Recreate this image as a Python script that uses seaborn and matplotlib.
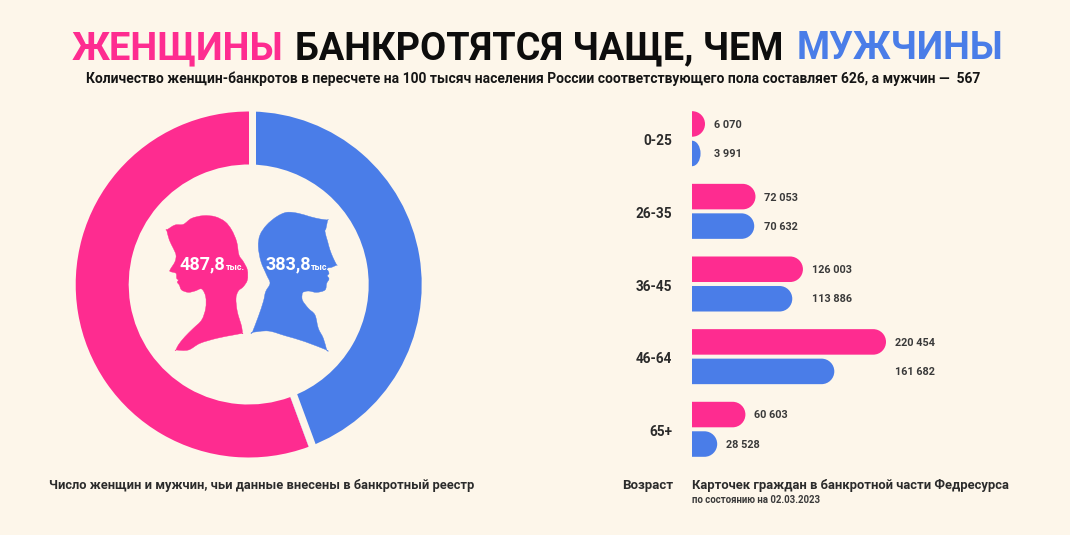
import numpy as np
import pandas as pd
import seaborn as sns
import matplotlib
matplotlib.use("Agg")
import matplotlib.pyplot as plt
from matplotlib.path import Path
from matplotlib.patches import PathPatch, Polygon
from matplotlib.transforms import IdentityTransform, ScaledTranslation

# ---- data ----
ages = ["0-25", "26-35", "36-45", "46-64", "65+"]
women_cards = [6070, 72053, 126003, 220454, 60603]
men_cards = [3991, 70632, 113886, 161682, 28528]
card_labels_w = ["6 070", "72 053", "126 003", "220 454", "60 603"]
card_labels_m = ["3 991", "70 632", "113 886", "161 682", "28 528"]
registry = [383.8, 487.8]          # men, women, thousands
registry_labels = ["383,8", "487,8"]
# the source stretches the smallest bars; axis knots (value -> px)
scale_values = [0, 6070, 28528, 220454]
scale_pixels = [0, 13, 25.2, 194]

# ---- style ----
BG = "#FDF6EA"
PINK = "#FE2C90"
BLUE = "#4A7DE8"
DARK = "#2B2B2B"
W, H = 1070, 535
sns.set_theme(style="white")
plt.rcParams["font.family"] = ["Roboto", "DejaVu Sans"]
plt.rcParams["font.weight"] = "bold"

fig = plt.figure(figsize=(W / 100, H / 100), dpi=100, facecolor=BG)


def rect(l, t, w, h):
    return [l / W, 1 - (t + h) / H, w / W, h / H]


# overlay in pixel coordinates for text and drawings
bgax = fig.add_axes([0, 0, 1, 1], zorder=5)
bgax.set_xlim(0, W)
bgax.set_ylim(H, 0)
bgax.axis("off")


def T(x, y, s, size, color=DARK, ha="left", va="baseline", **kw):
    return bgax.text(x, y, s, fontsize=size, color=color, ha=ha, va=va, **kw)


# ---- title ----
T(72, 59, "ЖЕНЩИНЫ", 27.4, PINK)
T(295, 59, "БАНКРОТЯТСЯ ЧАЩЕ, ЧЕМ", 27.3, "#0D0D0D")
T(797, 59, "МУЖЧИНЫ", 27.2, BLUE)
T(86, 83,
  "Количество женщин-банкротов в пересчете на 100 тысяч населения России "
  "соответствующего пола составляет 626, а мужчин —  567", 10.04, "#151515")

# ---- donut ----
cx, cy, R = 248.7, 284.5, 173
pie_ax = fig.add_axes(rect(cx - R, cy - R, 2 * R, 2 * R))
pie_ax.pie(registry, colors=[BLUE, PINK], startangle=88.8, counterclock=False,
           radius=1, wedgeprops=dict(width=53 / R, linewidth=0))
pie_ax.set_xlim(-1, 1)
pie_ax.set_ylim(-1, 1)
pie_ax.set_aspect("equal")
pie_ax.axis("off")
# separators between the two sectors
gap = 7.4 / R
for a, sign in ((0.0, 1), (np.deg2rad(159.7), -1)):
    d = np.array([np.sin(a), np.cos(a)])
    n = np.array([np.cos(a), -np.sin(a)])
    o = n * sign
    p = [d * 0.6, d * 1.02, d * 1.02 + o * gap, d * 0.6 + o * gap]
    pie_ax.add_patch(Polygon(p, closed=True, fc=BG, ec="none", clip_on=False))

# ---- silhouettes (decorative outlines) ----
woman_zoom = [(20, 75), (45, 60), (70, 58), (95, 40), (130, 32), (165, 35), (195, 50), (215, 75),
              (230, 110), (237, 150), (250, 170), (262, 195), (262, 225), (250, 245), (235, 258),
              (228, 280), (232, 320), (245, 365), (247, 385), (247, 385), (220, 390), (170, 400), (120, 415),
              (85, 435), (48, 435), (48, 435), (55, 420), (75, 395), (100, 370), (125, 345), (137, 310),
              (137, 275), (125, 252), (105, 258), (85, 262), (65, 255), (58, 240), (52, 232),
              (55, 225), (50, 220), (48, 205), (32, 200), (30, 195), (45, 170), (48, 150),
              (40, 130), (28, 105), (20, 75)]
man_zoom = [(22, 382), (22, 382), (40, 335), (55, 290), (62, 260), (75, 235), (65, 210), (48, 170), (40, 125),
            (45, 90), (65, 60), (95, 35), (125, 22), (160, 25), (195, 35), (225, 42), (248, 45), (248, 45),
            (243, 70), (240, 80), (248, 110), (255, 135), (265, 160), (275, 180), (275, 180), (260, 187),
            (247, 190), (252, 205), (247, 212), (252, 222), (245, 235), (240, 255), (215, 262),
            (190, 258), (172, 262), (172, 262), (172, 285), (190, 310), (210, 330), (220, 370), (235, 400),
            (245, 435), (245, 435), (180, 410), (120, 392), (70, 378)]


def smooth(points):
    """Closed Catmull-Rom outline as Bezier curves."""
    P = np.array(points, dtype=float)
    n = len(P)
    verts, codes = [P[0]], [Path.MOVETO]
    for i in range(n):
        p0, p1, p2, p3 = P[i - 1], P[i], P[(i + 1) % n], P[(i + 2) % n]
        verts += [p1 + (p2 - p0) / 6, p2 - (p3 - p1) / 6, p2]
        codes += [Path.CURVE4] * 3
    return Path(verts, codes)


for pts, (ox, oy), col in ((woman_zoom, (160, 205), PINK), (man_zoom, (245, 205), BLUE)):
    xy = [(ox + x / 3, oy + y / 3) for x, y in pts]
    bgax.add_patch(PathPatch(smooth(xy), fc=col, ec=col, lw=0.3))

T(179, 269.5, registry_labels[1], 13.0, "white")
T(226, 269.5, "тыс.", 6.4, "white")
T(265, 269.5, registry_labels[0], 13.0, "white")
T(311, 269.5, "тыс.", 6.4, "white")

# ---- bars ----
df = pd.DataFrame({
    "age": ages * 2,
    "value": women_cards + men_cards,
    "sex": ["Ж"] * len(ages) + ["М"] * len(ages),
})
pitch = 72.65
bar_ax = fig.add_axes(rect(692, 138.7 - pitch / 2, 194, pitch * 5))
bar_ax.patch.set_alpha(0)
sns.barplot(data=df, y="age", x="value", hue="sex", hue_order=["Ж", "М"], order=ages,
            palette={"Ж": PINK, "М": BLUE}, width=0.812, gap=0.135, legend=False,
            ax=bar_ax, saturation=1, linewidth=0)
bar_ax.set_xscale("function", functions=(
    lambda v: np.interp(v, scale_values, scale_pixels),
    lambda p: np.interp(p, scale_pixels, scale_values)))
bar_ax.set_xlim(0, scale_values[-1])
bar_ax.set_ylim(len(ages) - 0.5, -0.5)
bar_ax.set_xlabel("")
bar_ax.set_ylabel("")
bar_ax.set_xticks([])
bar_ax.minorticks_off()
bar_ax.tick_params(axis="y", length=0, pad=14.2, labelsize=9.8, labelcolor=DARK)
for lab in bar_ax.get_yticklabels():
    lab.set_transform(lab.get_transform() + ScaledTranslation(0, -0.9 / 72, fig.dpi_scale_trans))
for s in bar_ax.spines.values():
    s.set_visible(False)
fig.canvas.draw()

# bars with rounded right ends, same geometry as seaborn's rectangles
K = 0.5523
for bar in list(bar_ax.patches):
    (x0, y0), (x1, y1) = bar_ax.transData.transform(
        [(bar.get_x(), bar.get_y()), (bar.get_x() + bar.get_width(), bar.get_y() + bar.get_height())])
    ylo, yhi = min(y0, y1), max(y0, y1)
    ry = (yhi - ylo) / 2
    rx = min(x1 - x0, ry)
    ym = (ylo + yhi) / 2
    xs = x1 - rx
    verts = [(x0, ylo), (xs, ylo),
             (xs + K * rx, ylo), (x1, ym - K * ry), (x1, ym),
             (x1, ym + K * ry), (xs + K * rx, yhi), (xs, yhi),
             (x0, yhi), (x0, ylo)]
    codes = [Path.MOVETO, Path.LINETO, Path.CURVE4, Path.CURVE4, Path.CURVE4,
             Path.CURVE4, Path.CURVE4, Path.CURVE4, Path.LINETO, Path.CLOSEPOLY]
    bar_ax.add_patch(PathPatch(Path(verts, codes), fc=bar.get_facecolor(), ec="none",
                               transform=IdentityTransform(), clip_on=False))
    bar.remove()

# value labels: both bars of a group share the label column, except the last group
offset = 9
for i, age in enumerate(ages):
    w, m = women_cards[i], men_cards[i]
    col = max(w, m)
    for j, (val, lab) in enumerate(((w, card_labels_w[i]), (m, card_labels_m[i]))):
        anchor = val if age == "65+" else col
        y = i + (-0.2 if j == 0 else 0.2)
        bar_ax.annotate(lab, xy=(anchor, y), xytext=(offset * 0.72, -0.5),
                        textcoords="offset points", va="center", ha="left",
                        fontsize=7.8, color="#3A3A3A", annotation_clip=False)

# ---- captions ----
T(49, 489, "Число женщин и мужчин, чьи данные внесены в банкротный реестр", 9.28)
T(622, 489, "Возраст", 9.5)
T(692, 489, "Карточек граждан в банкротной части Федресурса", 9.33)
T(692, 503, "по состоянию на 02.03.2023", 6.9, "#3A3A3A")

fig.savefig("out.png", dpi=100, facecolor=BG)
